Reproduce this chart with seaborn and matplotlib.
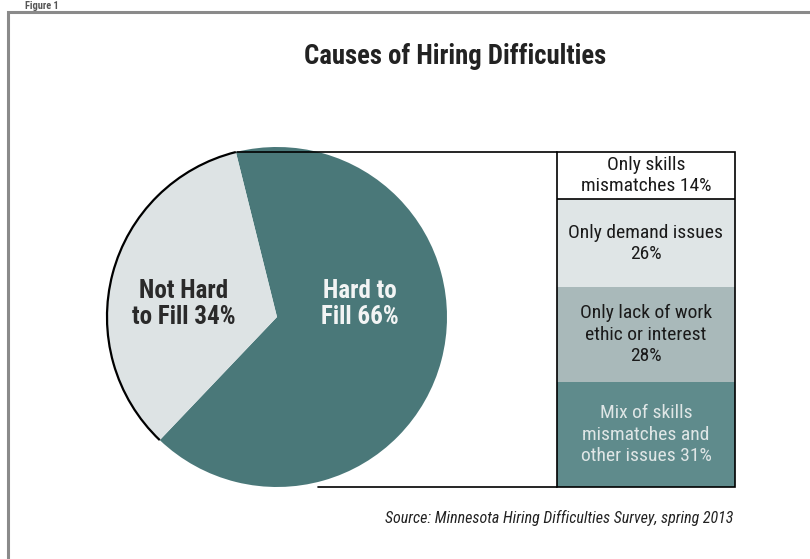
import matplotlib
matplotlib.use("Agg")
import matplotlib.pyplot as plt
import matplotlib.font_manager as fm
from matplotlib.patches import Arc, Rectangle
import numpy as np
import pandas as pd
import seaborn as sns

# Pie: share of vacancies
pie_labels = ["Hard to\nFill", "Not Hard\nto Fill"]
pie_values = [66, 34]
pie_colors = ["#4a7879", "#dde3e4"]

# Breakdown of hard-to-fill vacancies (top to bottom)
bar_labels = ["Only skills\nmismatches", "Only demand issues\n", "Only lack of work\nethic or interest\n",
              "Mix of skills\nmismatches and\nother issues"]
bar_values = [14, 26, 28, 31]
bar_colors = ["#ffffff", "#dfe5e6", "#a9b9ba", "#5f8b8c"]
bar_text_colors = ["#1a1a1a", "#1a1a1a", "#1a1a1a", "#dfe6e6"]

title = "Causes of Hiring Difficulties"
source = "Source: Minnesota Hiring Difficulties Survey, spring 2013"

sns.set_theme(style="white")

# pick a narrow sans face if one is available
fonts = fm.fontManager.ttflist
names = {f.name for f in fonts}
FAMILY, STRETCH = ["DejaVu Sans"], "normal"
for cand in ["Liberation Sans Narrow", "Roboto Condensed", "Open Sans Condensed", "Noto Sans Condensed"]:
    if cand in names:
        FAMILY, STRETCH = [cand, "DejaVu Sans"], "normal"
        break
else:
    narrow = [f for f in fonts if f.stretch in ("condensed", "semi-condensed", "extra-condensed")
              or (isinstance(f.stretch, int) and f.stretch < 500)]
    if narrow:
        FAMILY, STRETCH = [narrow[0].name, "DejaVu Sans"], "condensed"
plt.rcParams["font.family"] = FAMILY
plt.rcParams["font.stretch"] = STRETCH

W, H = 810, 559
fig = plt.figure(figsize=(W / 100, H / 100), dpi=100)
fig.patch.set_facecolor("white")
ax = fig.add_axes([0, 0, 1, 1])


def Y(py):
    return H - py


# pie in pixel space
cx, cy, r = 277, Y(317), 170
wedges, _ = ax.pie(pie_values, colors=pie_colors, startangle=104, counterclock=False,
                   center=(cx, cy), radius=r, wedgeprops=dict(linewidth=0))
ax.set_xlim(0, W)
ax.set_ylim(0, H)
ax.set_aspect("equal")
ax.axis("off")

# black outline on the outer arc of the smaller slice
t1, t2 = wedges[1].theta1, wedges[1].theta2
ax.add_patch(Arc((cx, cy), 2 * r, 2 * r, theta1=t1, theta2=t2, color="black", lw=1.6, zorder=5))

ax.text(184, Y(304), f"{pie_labels[1]} {pie_values[1]}%", ha="center", va="center",
        fontsize=18, fontweight="bold", color="#2a2a2a", linespacing=1.1)
hard_first, hard_second = pie_labels[0].split("\n")
ax.text(360, Y(304), f"{hard_first}\n{hard_second} {pie_values[0]}%", ha="center", va="center",
        fontsize=18, fontweight="bold", color="#f2f4f4", linespacing=1.1)

# connector lines from the pie to the bar
ax.plot([237, 557], [Y(152), Y(152)], color="black", lw=1.2, zorder=6)
ax.plot([318, 557], [Y(487), Y(487)], color="black", lw=1.2, zorder=6)

# frame
ax.plot([8, 8, W], [0, Y(12), Y(12)], color="#8a8a8a", lw=2.2, solid_joinstyle="miter")
ax.text(25, Y(1), "Figure 1", ha="left", va="top", fontsize=7.5, fontweight="bold", color="#555555")

ax.text(455, Y(57), title, ha="center", va="center", fontsize=19.3, fontweight="bold", color="#222222")
ax.text(733, Y(518), source, ha="right", va="center", fontsize=11.5, style="italic", color="#222222")

# stacked bar
total = sum(bar_values)
bx0, bx1, by0, by1 = 557, 735, 152, 487
bax = fig.add_axes([bx0 / W, (H - by1) / H, (bx1 - bx0) / W, (by1 - by0) / H])
cum_from_bottom = np.cumsum(bar_values[::-1])[::-1]  # top segment first
df = pd.DataFrame({"label": bar_labels, "value": bar_values, "top": cum_from_bottom, "color": bar_colors})
for _, row in df.iterrows():
    sns.barplot(x=[0], y=[row["top"]], color=row["color"], width=1, saturation=1,
                linewidth=0, ax=bax)
bax.set_xlim(-0.5, 0.5)
bax.set_ylim(0, total)
bax.axis("off")

bax.add_patch(Rectangle((-0.5, 0), 1, total, fill=False, ec="black", lw=1.2, clip_on=False, zorder=5))
bax.plot([-0.5, 0.5], [total - bar_values[0]] * 2, color="black", lw=1.2, zorder=5)

for i, row in df.iterrows():
    mid = row["top"] - row["value"] / 2
    lab = row["label"]
    sep = "" if lab.endswith("\n") else " "
    bax.text(0, mid, f"{lab}{sep}{row['value']}%", ha="center", va="center", fontsize=14,
             color=bar_text_colors[i], linespacing=1.25)

fig.savefig("out.png", dpi=100)
